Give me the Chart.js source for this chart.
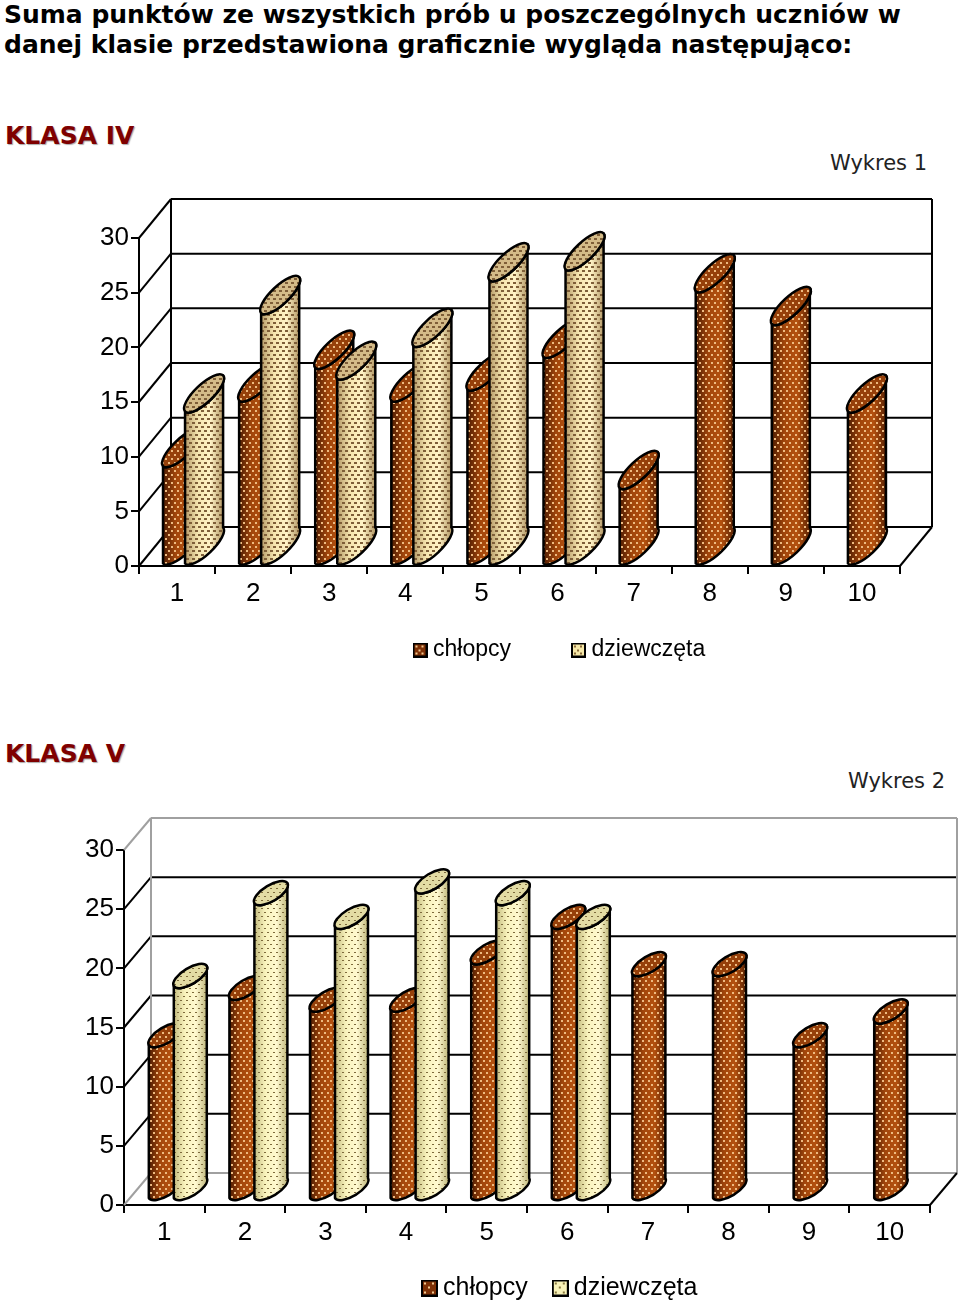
<!DOCTYPE html>
<html lang="pl">
<head>
<meta charset="utf-8">
<title>Wykresy</title>
<script src="https://cdn.jsdelivr.net/npm/chart.js@4/dist/chart.umd.min.js"></script>
<style>
  html, body { margin: 0; padding: 0; background: #fff; }
  body { position: relative; width: 960px; height: 1300px; overflow: hidden; font-family: "DejaVu Sans", Verdana, sans-serif; }
  h1, h2, .nr { position: absolute; margin: 0; white-space: nowrap; }
  h1 { left: 4px; font-size: 25px; line-height: 30px; font-weight: bold; color: #000; }
  h2 { left: 5px; font-size: 25px; line-height: 30px; font-weight: bold; color: #7f0000; text-shadow: 1px 1px 1px #aaa; }
  .nr { font-size: 21px; line-height: 26px; color: #222; }
  canvas { position: absolute; left: 0; }
</style>
</head>
<body>
<h1 style="top:0">Suma punktów ze wszystkich prób u poszczególnych uczniów w</h1>
<h1 style="top:30px">danej klasie przedstawiona graficznie wygląda następująco:</h1>
<h2 style="top:121px">KLASA IV</h2>
<div class="nr" style="top:150px;left:830px">Wykres 1</div>
<canvas id="chartIV" style="top:190px"></canvas>
<h2 style="top:739px">KLASA V</h2>
<div class="nr" style="top:768px;left:848px">Wykres 2</div>
<canvas id="chartV" style="top:800px"></canvas>

<script>
const categories = ['1', '2', '3', '4', '5', '6', '7', '8', '9', '10'];
const seriesNames = ['chłopcy', 'dziewczęta'];

const boysIV = [9, 15, 18, 15, 16, 19, 7, 25, 22, 14];
const girlsIV = [14, 23, 17, 20, 26, 27, null, null, null, null];

const boysV = [13, 17, 16, 16, 20, 23, 19, 19, 13, 15];
const girlsV = [18, 25, 23, 26, 25, 23, null, null, null, null];

const axisMax = 30;
const axisStep = 5;

// kropkowany wzór jako mały kafelek
function dotTile(tw, th, color, w, h) {
  const c = document.createElement('canvas');
  c.width = tw;
  c.height = th;
  const g = c.getContext('2d');
  g.fillStyle = color;
  g.fillRect(0, 0, w, h);
  g.fillRect(tw / 2, th / 2, w, h);
  return c;
}

function swatch(size, base, dotColor, dots) {
  const c = document.createElement('canvas');
  c.width = size;
  c.height = size;
  const g = c.getContext('2d');
  g.fillStyle = base;
  g.fillRect(0, 0, size, size);
  g.fillStyle = dotColor;
  dots.forEach(d => g.fillRect(d[0], d[1], 2, 2));
  g.strokeStyle = '#000';
  g.lineWidth = 2;
  g.strokeRect(1, 1, size - 2, size - 2);
  return c;
}

// ściany, podłoga i linie siatki w głębi
const wallsPlugin = {
  id: 'walls',
  beforeDatasetsDraw(chart, args, opts) {
    const { ctx, chartArea: a, scales } = chart;
    const dx = opts.dx, dy = opts.dy;
    const line = (x1, y1, x2, y2, color) => {
      ctx.strokeStyle = color;
      ctx.beginPath();
      ctx.moveTo(x1, y1);
      ctx.lineTo(x2, y2);
      ctx.stroke();
    };
    ctx.save();
    ctx.lineWidth = 2;
    scales.y.ticks.forEach(t => {
      const y = scales.y.getPixelForValue(t.value);
      const edge = t.value === 0 || t.value === axisMax;
      const color = edge ? opts.frame : '#000';
      line(a.left, y, a.left + dx, y + dy, color);
      line(a.left + dx, y + dy, a.right + dx, y + dy, color);
    });
    line(a.left + dx, a.top + dy, a.left + dx, a.bottom + dy, opts.frame);
    line(a.right + dx, a.top + dy, a.right + dx, a.bottom + dy, opts.frame);
    line(a.right, a.bottom, a.right + dx, a.bottom + dy, '#000');
    ctx.restore();
  }
};

// walce rysowane na pozycjach słupków liczonych przez Chart.js
const cylinderPlugin = {
  id: 'cylinders',
  afterDatasetsDraw(chart, args, opts) {
    const ctx = chart.ctx;
    categories.forEach((cat, i) => {
      chart.data.datasets.forEach((ds, d) => {
        const el = chart.getDatasetMeta(d).data[i];
        if (!el || ds.data[i] === null) return;
        const look = opts.looks[d];
        const cx = el.x + opts.dx / 2;
        const hw = el.width / 2;
        const yTop = el.y + opts.dy / 2;
        const yBase = el.base + opts.dy / 2;
        const a = Math.hypot(hw, opts.tip);
        const rot = Math.atan2(-opts.tip, hw);
        const grad = ctx.createLinearGradient(cx - hw, 0, cx + hw, 0);
        look.side.forEach((c, k) => grad.addColorStop(k / (look.side.length - 1), c));
        const dots = ctx.createPattern(look.tile, 'repeat');

        ctx.save();
        ctx.lineWidth = 2.5;
        ctx.lineJoin = 'round';
        ctx.strokeStyle = '#000';

        ctx.beginPath();
        ctx.moveTo(cx - hw, yTop + opts.tip);
        ctx.lineTo(cx - hw, yBase + opts.tip);
        ctx.ellipse(cx, yBase, a, opts.minor, rot, Math.PI, 0, true);
        ctx.lineTo(cx + hw, yTop - opts.tip);
        ctx.ellipse(cx, yTop, a, opts.minor, rot, 0, Math.PI, false);
        ctx.closePath();
        ctx.fillStyle = grad;
        ctx.fill();
        ctx.fillStyle = dots;
        ctx.fill();
        ctx.stroke();

        ctx.beginPath();
        ctx.ellipse(cx, yTop, a, opts.minor, rot, 0, Math.PI * 2);
        ctx.fillStyle = look.top;
        ctx.fill();
        ctx.fillStyle = dots;
        ctx.fill();
        ctx.stroke();
        ctx.restore();
      });
    });
  }
};

// legenda przesunięta tam, gdzie jest na obrazku
const legendPlacePlugin = {
  id: 'legendPlace',
  afterLayout(chart, args, opts) {
    const lg = chart.legend;
    const pad = lg.options.labels.padding;
    lg.left = opts.x - pad;
    lg.right = chart.width;
    lg.top = opts.y - pad;
    lg.bottom = chart.height;
  }
};

function makeChart(id, boys, girls, cfg) {
  const canvas = document.getElementById(id);
  canvas.width = 960;
  canvas.height = cfg.height;
  return new Chart(canvas, {
    type: 'bar',
    data: {
      labels: categories,
      datasets: [
        { label: seriesNames[0], data: boys, backgroundColor: 'transparent', borderWidth: 0 },
        { label: seriesNames[1], data: girls, backgroundColor: 'transparent', borderWidth: 0 }
      ]
    },
    plugins: [wallsPlugin, cylinderPlugin, legendPlacePlugin],
    options: {
      responsive: false,
      animation: false,
      maintainAspectRatio: false,
      categoryPercentage: cfg.catPct,
      barPercentage: cfg.barPct,
      layout: { padding: { left: 0, top: cfg.top, right: cfg.right, bottom: cfg.bottom } },
      scales: {
        x: {
          afterFit(scale) { scale.height = 45; },
          border: { color: '#000', width: 2 },
          grid: { drawOnChartArea: false, color: '#000', lineWidth: 2, tickLength: 8 },
          ticks: { color: '#000', padding: 4, maxRotation: 0, font: { family: cfg.tickFont, size: 26 } }
        },
        y: {
          min: 0,
          max: axisMax,
          afterFit(scale) { scale.width = cfg.left; },
          border: { color: '#000', width: 2 },
          grid: { drawOnChartArea: false, color: '#000', lineWidth: 2, tickLength: 8 },
          ticks: { stepSize: axisStep, color: '#000', padding: 2, font: { family: cfg.tickFont, size: 26 } }
        }
      },
      plugins: {
        tooltip: { enabled: false },
        legend: {
          position: 'bottom',
          align: 'start',
          maxHeight: 1,
          labels: {
            color: '#000',
            font: { family: '"Liberation Sans", Arial, sans-serif', size: cfg.legendSize },
            padding: cfg.legendPad,
            usePointStyle: true,
            pointStyleWidth: cfg.legendBox,
            generateLabels() {
              return seriesNames.map((name, i) => ({
                text: name,
                pointStyle: cfg.swatches[i],
                fillStyle: 'transparent',
                strokeStyle: 'transparent',
                lineWidth: 0,
                fontColor: '#000',
                datasetIndex: i
              }));
            }
          }
        },
        walls: { dx: cfg.dx, dy: cfg.dy, frame: cfg.frame },
        cylinders: { dx: cfg.dx, dy: cfg.dy, tip: cfg.tip, minor: cfg.minor, looks: cfg.looks },
        legendPlace: { x: cfg.legendX, y: cfg.legendY }
      }
    }
  });
}

const tickFont = '"Liberation Sans", Arial, sans-serif';

makeChart('chartIV', boysIV, girlsIV, {
  height: 480, top: 48, right: 60, bottom: 58, left: 139,
  catPct: 0.579, barPct: 1.727, dx: 32, dy: -39, tip: 18, minor: 9, frame: '#000',
  tickFont,
  legendSize: 23, legendPad: 66, legendBox: 3, legendX: 418.5, legendY: 448.5,
  swatches: [
    swatch(15, '#7e3005', '#f2c890', [[3, 3], [9, 3], [6, 7], [3, 10], [9, 10]]),
    swatch(15, '#f6e8a8', '#8a6a3a', [[3, 3], [9, 3], [6, 7], [3, 10], [9, 10]])
  ],
  looks: [
    { side: ['#4e1c02', '#a2460b', '#b4510f', '#5a2203'], top: '#96400a',
      tile: dotTile(6, 8, '#eeba80', 2, 2) },
    { side: ['#b59a68', '#f5e4ae', '#fff3c6', '#b39866'], top: '#d4bb88',
      tile: dotTile(6, 8, '#7e5e38', 3, 2) }
  ]
});

makeChart('chartV', boysV, girlsV, {
  height: 500, top: 50, right: 30, bottom: 49, left: 124,
  catPct: 0.62, barPct: 1.32, dx: 27, dy: -32, tip: 10, minor: 8, frame: '#a0a0a0',
  tickFont,
  legendSize: 25, legendPad: 31.5, legendBox: 2, legendX: 428.5, legendY: 475.5,
  swatches: [
    swatch(17, '#7e3005', '#f2c890', [[3, 3], [11, 3], [7, 7], [3, 12], [11, 12]]),
    swatch(17, '#f8f2b8', '#8a7a40', [[3, 3], [11, 3], [7, 7], [3, 12], [11, 12]])
  ],
  looks: [
    { side: ['#4e1c02', '#a2460b', '#b4510f', '#5a2203'], top: '#96400a',
      tile: dotTile(6, 8, '#eeba80', 2, 2) },
    { side: ['#c4bc80', '#f9f3bd', '#fff9d0', '#c0b87c'], top: '#e3dca4',
      tile: dotTile(6, 8, '#7d6a3c', 2, 1) }
  ]
});
</script>
</body>
</html>
